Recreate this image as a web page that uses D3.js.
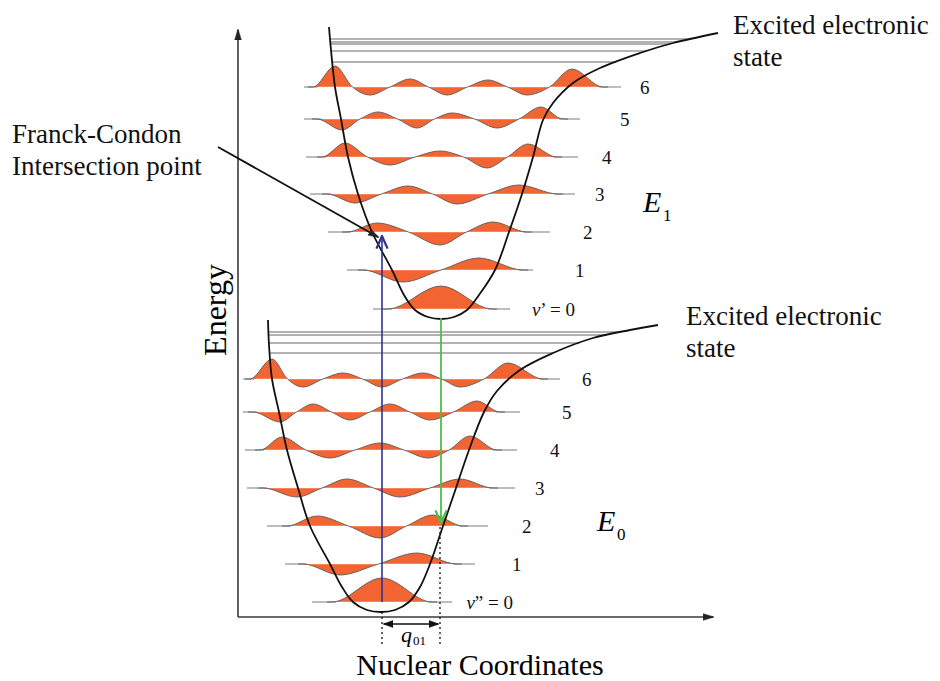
<!DOCTYPE html>
<html lang="en">
<head>
  <meta charset="UTF-8">
  <title>Franck-Condon diagram</title>
  <style>
    body { margin: 0; background: #fff; }
    svg { display: block; font-family: "Liberation Serif", "Times New Roman", serif; }
    .axis { stroke: #3a3a3a; stroke-width: 1.6; }
    .pes { fill: none; stroke: #111; stroke-width: 1.8; }
    .diss { stroke: #666; stroke-width: 1; }
    .base { stroke: #9a9a9a; stroke-width: 1.3; }
    .wave { fill: #f26532; stroke: none; }
    .outline { fill: none; stroke: #5a5a5a; stroke-width: 0.9; }
    .seam { stroke: #fff; stroke-width: 0.6; opacity: 0.7; }
    .note { font-size: 27px; fill: #111; }
    .lvl { font-size: 19px; fill: #111; }
  </style>
</head>
<body>
<div id="chart"></div>
<script src="https://d3js.org/d3.v7.min.js"></script>
<script>
  // nuclear coordinate q / energy E
  const upperCurve = [[91,590],[93,567],[97,530],[103,498],[110,460],[120,423],[134,385],[154,347],[166,322],[177,307],[190,300],[203,298],
    [216,300],[229,307],[241,322],[257,347],[271,385],[284,423],[295,460],[305,497],[315,514],[335,534],[362,549],[402,564],[435,574],[480,584]];
  const lowerCurve = [[30,297],[31,272],[34,238],[41,205],[49,167],[60,129],[72,91],[92,53],[104,30],[115,15],[129,7],[143,5],
    [157,7],[171,15],[182,30],[192,53],[205,91],[218,129],[231,167],[246,205],[259,226],[282,247],[315,264],[355,279],[392,287],[420,292]];

  const upperE = [308, 347, 385, 423, 460, 498, 530];
  const lowerE = [15, 53, 91, 129, 167, 205, 238];

  const upperBase = [[135,272],[109,295],[90,312],[72,337],[68,340],[66,342],[66,383]];
  const lowerBase = [[74,214],[47,237],[29,250],[9,277],[7,279],[5,282],[5,322]];

  const upperSpan = [[150,254],[125,285],[109,289],[89,320],[84,319],[79,325],[75,365]];
  const lowerSpan = [[94,194],[65,219],[49,225],[25,255],[22,259],[15,262],[12,305]];

  const upperPeaks = [[203],[165,241],[139,202,255],[117,170,219,281],[107,152,202,249,290],
    [104,140,179,214,259,303],[97,132,172,209,250,289,334]];
  const upperAmps = [[23],[-12,12],[9,-13,10],[-9,8,-10,9],[14,-8,6,-11,13],
    [-11,7,-9,6,-9,12],[21,-8,8,-8,7,-8,18]];
  const lowerPeaks = [[144],[102,179],[79,142,195],[59,109,162,222],[44,92,142,190,232],
    [42,75,112,152,192,239],[34,65,105,144,185,222,270]];
  const lowerAmps = [[24],[-11,11],[10,-12,11],[-9,9,-9,9],[13,-8,7,-8,14],
    [-10,8,-8,8,-8,11],[20,-8,6,-8,6,-8,16]];

  const upperDiss = [578, 575, 573, 566, 555];
  const lowerDiss = [285, 282, 274, 264];

  const levelNames = ['0', '1', '2', '3', '4', '5', '6'];

  // [q, E from, E to]
  const absorption = [144, 15, 381];
  const emission = [203, 299, 94];
  const shift = [144, 202];   // q01 between the two minima

  const width = 940, height = 681;

  const x = d3.scaleLinear().domain([0, 475]).range([238, 713]);
  const y = d3.scaleLinear().domain([0, 587]).range([617, 30]);

  const svg = d3.select('#chart').append('svg')
    .attr('width', width)
    .attr('height', height);

  const defs = svg.append('defs');
  function addMarker(id, color, path, size, filled, orient) {
    defs.append('marker')
      .attr('id', id)
      .attr('viewBox', '0 0 10 10')
      .attr('refX', 9).attr('refY', 5)
      .attr('markerWidth', size).attr('markerHeight', size)
      .attr('markerUnits', 'userSpaceOnUse')
      .attr('orient', orient || 'auto')
      .append('path')
      .attr('d', path)
      .attr('fill', filled ? color : 'none')
      .attr('stroke', color)
      .attr('stroke-width', filled ? 0.5 : 1.6);
  }
  addMarker('tri', '#222', 'M0,2L10,5L0,8Z', 11, true);
  addMarker('blueHead', '#2e3192', 'M0,1L9,5L0,9', 14, false);
  addMarker('greenHead', '#4cbf4a', 'M0,1L9,5L0,9', 14, false);
  addMarker('dbl', '#111', 'M0,1.5L10,5L0,8.5Z', 10, true, 'auto-start-reverse');

  // axes
  svg.append('line').attr('class', 'axis')
    .attr('x1', x(0)).attr('y1', y(0)).attr('x2', x(0)).attr('y2', y(587))
    .attr('marker-end', 'url(#tri)');
  svg.append('line').attr('class', 'axis')
    .attr('x1', x(0)).attr('y1', y(0)).attr('x2', x(475)).attr('y2', y(0))
    .attr('marker-end', 'url(#tri)');

  // where a horizontal energy meets a branch of the curve
  function crossing(pts, E) {
    for (let i = 0; i < pts.length - 1; i++) {
      const a = pts[i], b = pts[i + 1];
      if ((E - a[1]) * (E - b[1]) <= 0 && a[1] !== b[1]) {
        return a[0] + (b[0] - a[0]) * (E - a[1]) / (b[1] - a[1]);
      }
    }
    return pts[pts.length - 1][0];
  }

  const line = d3.line().x(d => x(d[0])).y(d => y(d[1])).curve(d3.curveCatmullRom);

  function drawState(curve, levels, base, span, peaks, amps, diss) {
    const g = svg.append('g');
    const iMin = d3.minIndex(curve, d => d[1]);
    const left = curve.slice(0, iMin + 1);
    const right = curve.slice(iMin);

    // dissociation continuum lines
    g.selectAll('.diss')
      .data(diss)
      .enter()
      .append('line')
      .classed('diss', true)
      .attr('x1', d => x(crossing(left, d)))
      .attr('x2', d => x(crossing(right, d)))
      .attr('y1', d => y(d))
      .attr('y2', d => y(d));

    levels.forEach((E, i) => {
      const pts = [[span[i][0] - 5, 0], [span[i][0], 0]];
      peaks[i].forEach((p, j) => {
        pts.push([p, amps[i][j]]);
        if (j < peaks[i].length - 1) pts.push([(p + peaks[i][j + 1]) / 2, 0]);
      });
      pts.push([span[i][1], 0], [span[i][1] + 5, 0]);

      // baseline only outside the wave, a light seam inside it
      [[base[i][0], span[i][0] + 4], [span[i][1] - 4, base[i][1]]].forEach(seg => {
        g.append('line').classed('base', true)
          .attr('x1', x(seg[0])).attr('x2', x(seg[1]))
          .attr('y1', y(E)).attr('y2', y(E));
      });

      const area = d3.area()
        .x(d => x(d[0]))
        .y0(y(E))
        .y1(d => y(E + d[1]))
        .curve(d3.curveMonotoneX);
      const edge = d3.line()
        .x(d => x(d[0]))
        .y(d => y(E + d[1]))
        .curve(d3.curveMonotoneX);

      g.append('path').classed('wave', true).attr('d', area(pts));
      g.append('line').classed('seam', true)
        .attr('x1', x(span[i][0] + 6)).attr('x2', x(span[i][1] - 6))
        .attr('y1', y(E)).attr('y2', y(E));
      g.append('path').classed('outline', true).attr('d', edge(pts));
    });

    g.append('path').classed('pes', true).attr('d', line(curve));
  }

  drawState(lowerCurve, lowerE, lowerBase, lowerSpan, lowerPeaks, lowerAmps, lowerDiss);
  drawState(upperCurve, upperE, upperBase, upperSpan, upperPeaks, upperAmps, upperDiss);

  // vibrational quantum numbers
  const upperLabelX = [575, 575, 583, 595, 602, 620, 640];
  const lowerLabelX = [513, 512, 522, 535, 550, 562, 582];
  function levelLabels(levels, labelX, prime) {
    levels.forEach((E, i) => {
      const t = svg.append('text').attr('class', 'lvl')
        .attr('x', labelX[i]).attr('y', y(E) + 7);
      if (i === 0) {
        t.attr('text-anchor', 'end');
        t.append('tspan').attr('font-style', 'italic').text('v');
        t.append('tspan').text(prime + ' = ' + levelNames[i]);
      } else {
        t.text(levelNames[i]);
      }
    });
  }
  levelLabels(upperE, upperLabelX, '\u2019');
  levelLabels(lowerE, lowerLabelX, '\u201D');

  // transitions
  svg.append('line')
    .attr('x1', x(absorption[0])).attr('x2', x(absorption[0]))
    .attr('y1', y(absorption[1])).attr('y2', y(absorption[2]))
    .attr('stroke', '#2e3192').attr('stroke-width', 1.6)
    .attr('marker-end', 'url(#blueHead)');
  svg.append('line')
    .attr('x1', x(emission[0])).attr('x2', x(emission[0]))
    .attr('y1', y(emission[1])).attr('y2', y(emission[2]))
    .attr('stroke', '#4cbf4a').attr('stroke-width', 1.8)
    .attr('marker-end', 'url(#greenHead)');

  // q01 displacement
  svg.append('line')
    .attr('x1', x(shift[0])).attr('x2', x(shift[0]))
    .attr('y1', y(5)).attr('y2', y(-29))
    .attr('stroke', '#111').attr('stroke-width', 1.3).attr('stroke-dasharray', '2,3');
  svg.append('line')
    .attr('x1', x(shift[1])).attr('x2', x(shift[1]))
    .attr('y1', y(90)).attr('y2', y(-29))
    .attr('stroke', '#111').attr('stroke-width', 1.3).attr('stroke-dasharray', '2,3');
  svg.append('line')
    .attr('x1', x(shift[0]) + 2).attr('x2', x(shift[1]) - 2)
    .attr('y1', y(-7)).attr('y2', y(-7))
    .attr('stroke', '#111').attr('stroke-width', 1.5)
    .attr('marker-start', 'url(#dbl)').attr('marker-end', 'url(#dbl)');

  svg.append('text').attr('x', 401).attr('y', 642).attr('font-size', 22)
    .attr('font-style', 'italic').text('q');
  svg.append('text').attr('x', 413).attr('y', 645).attr('font-size', 13).text('01');

  // Franck-Condon pointer
  svg.append('line')
    .attr('x1', x(-20)).attr('y1', y(470))
    .attr('x2', x(140)).attr('y2', y(380))
    .attr('stroke', '#111').attr('stroke-width', 1.8)
    .attr('marker-end', 'url(#tri)');

  // text
  const notes = [
    ['Franck-Condon', 12, 143], ['Intersection point', 12, 175],
    ['Excited electronic', 733, 34], ['state', 733, 66],
    ['Excited electronic', 686, 325], ['state', 686, 357]
  ];
  svg.selectAll('.note')
    .data(notes)
    .enter()
    .append('text')
    .classed('note', true)
    .attr('x', d => d[1])
    .attr('y', d => d[2])
    .text(d => d[0]);

  function stateName(sub, px, py) {
    svg.append('text').attr('x', px).attr('y', py).attr('font-size', 30)
      .attr('font-style', 'italic').text('E');
    svg.append('text').attr('x', px + 20).attr('y', py + 9).attr('font-size', 17).text(sub);
  }
  stateName('1', 643, 212);
  stateName('0', 597, 531);

  svg.append('text')
    .attr('transform', 'translate(226,310) rotate(-90)')
    .attr('text-anchor', 'middle')
    .attr('font-size', 32)
    .text('Energy');

  svg.append('text')
    .attr('x', 480).attr('y', 675)
    .attr('text-anchor', 'middle')
    .attr('font-size', 30)
    .text('Nuclear Coordinates');
</script>
</body>
</html>
